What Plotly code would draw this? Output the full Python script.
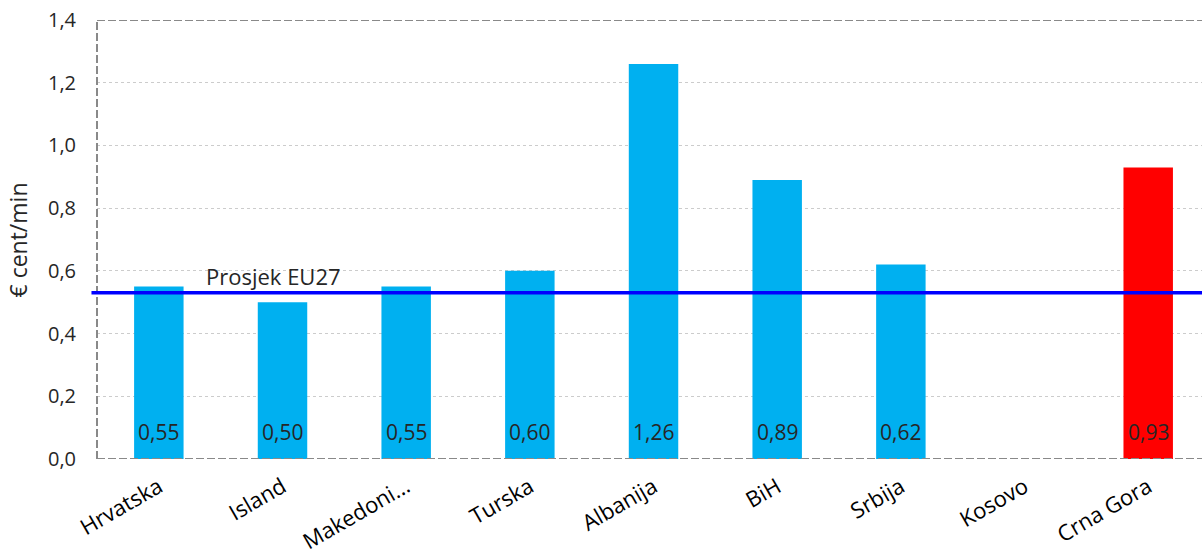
import plotly.graph_objects as go

categories = ["Hrvatska", "Island", "Makedoni…", "Turska", "Albanija", "BiH", "Srbija", "Kosovo", "Crna Gora"]
values = [0.55, 0.50, 0.55, 0.60, 1.26, 0.89, 0.62, None, 0.93]
bar_colors = ["#00B0F0"] * 8 + ["#FF0000"]
eu27_avg = 0.53
eu27_label = "Prosjek EU27"
y_ticks = [0.0, 0.2, 0.4, 0.6, 0.8, 1.0, 1.2, 1.4]
y_title = "€ cent/min"

FONT = "Open Sans, sans-serif"
TXT = "#262626"

x_pos = list(range(len(categories)))

fig = go.Figure()
fig.add_trace(go.Bar(
    x=x_pos,
    y=values,
    marker=dict(color=bar_colors, line=dict(width=0)),
    width=0.4,
    hoverinfo="x+y",
))

# data labels near the bar base
for xi, v in zip(x_pos, values):
    if v is None:
        continue
    fig.add_annotation(x=xi, y=0, xref="x", yref="y",
                       text=f"{v:.2f}".replace(".", ","),
                       showarrow=False, yanchor="bottom", yshift=11,
                       font=dict(family=FONT, size=21, color=TXT))

grid = "#CCCCCC"
axis_c = "#898989"
fig.update_layout(
    width=1202, height=554,
    margin=dict(l=97, r=0, t=20, b=95),
    plot_bgcolor="white", paper_bgcolor="white",
    showlegend=False,
    separators=",.",
    font=dict(family=FONT, size=20, color=TXT),
    xaxis=dict(
        range=[-0.5, 8.435],
        tickmode="array",
        tickvals=x_pos,
        ticktext=categories,
        tickangle=-30,
        showgrid=False, zeroline=False, showline=False,
        automargin=False,
        ticklabelstandoff=10,
        tickfont=dict(family=FONT, size=22, color="#000000"),
    ),
    yaxis=dict(
        range=[0, 1.4],
        tickvals=y_ticks,
        tickformat=".1f",
        showgrid=True, gridcolor=grid, gridwidth=1, griddash="dot",
        zeroline=False, showline=False,
        automargin=False,
        ticklabelstandoff=20,
        tickfont=dict(family=FONT, size=20, color=TXT),
    ),
)

fig.add_annotation(x=-0.0715, y=0.5, xref="paper", yref="paper", text=y_title,
                   textangle=-90, showarrow=False, xanchor="center", yanchor="middle",
                   font=dict(family=FONT, size=23, color=TXT))

# dashed frame (top, left, bottom)
frame = dict(color=axis_c, width=2, dash="8px,3px")
fig.add_shape(type="line", xref="paper", yref="y", x0=0, x1=1, y0=1.4, y1=1.4, line=frame)
fig.add_shape(type="line", xref="paper", yref="y", x0=0, x1=1, y0=0, y1=0, line=frame)
fig.add_shape(type="line", xref="paper", yref="y", x0=0, x1=0, y0=0, y1=1.4, line=frame)

# EU27 average line
fig.add_shape(type="line", xref="paper", yref="y", x0=-0.005, x1=1, y0=eu27_avg, y1=eu27_avg,
              line=dict(color="#0000FF", width=3.5))
fig.add_annotation(x=0.097, y=eu27_avg, xref="paper", yref="y", text=eu27_label,
                   showarrow=False, xanchor="left", yanchor="bottom", yshift=0,
                   font=dict(family=FONT, size=22, color=TXT))

fig.write_html("out.html",
               config={"displayModeBar": False},
               post_script="document.body.style.margin='0';document.body.style.overflow='hidden';")
